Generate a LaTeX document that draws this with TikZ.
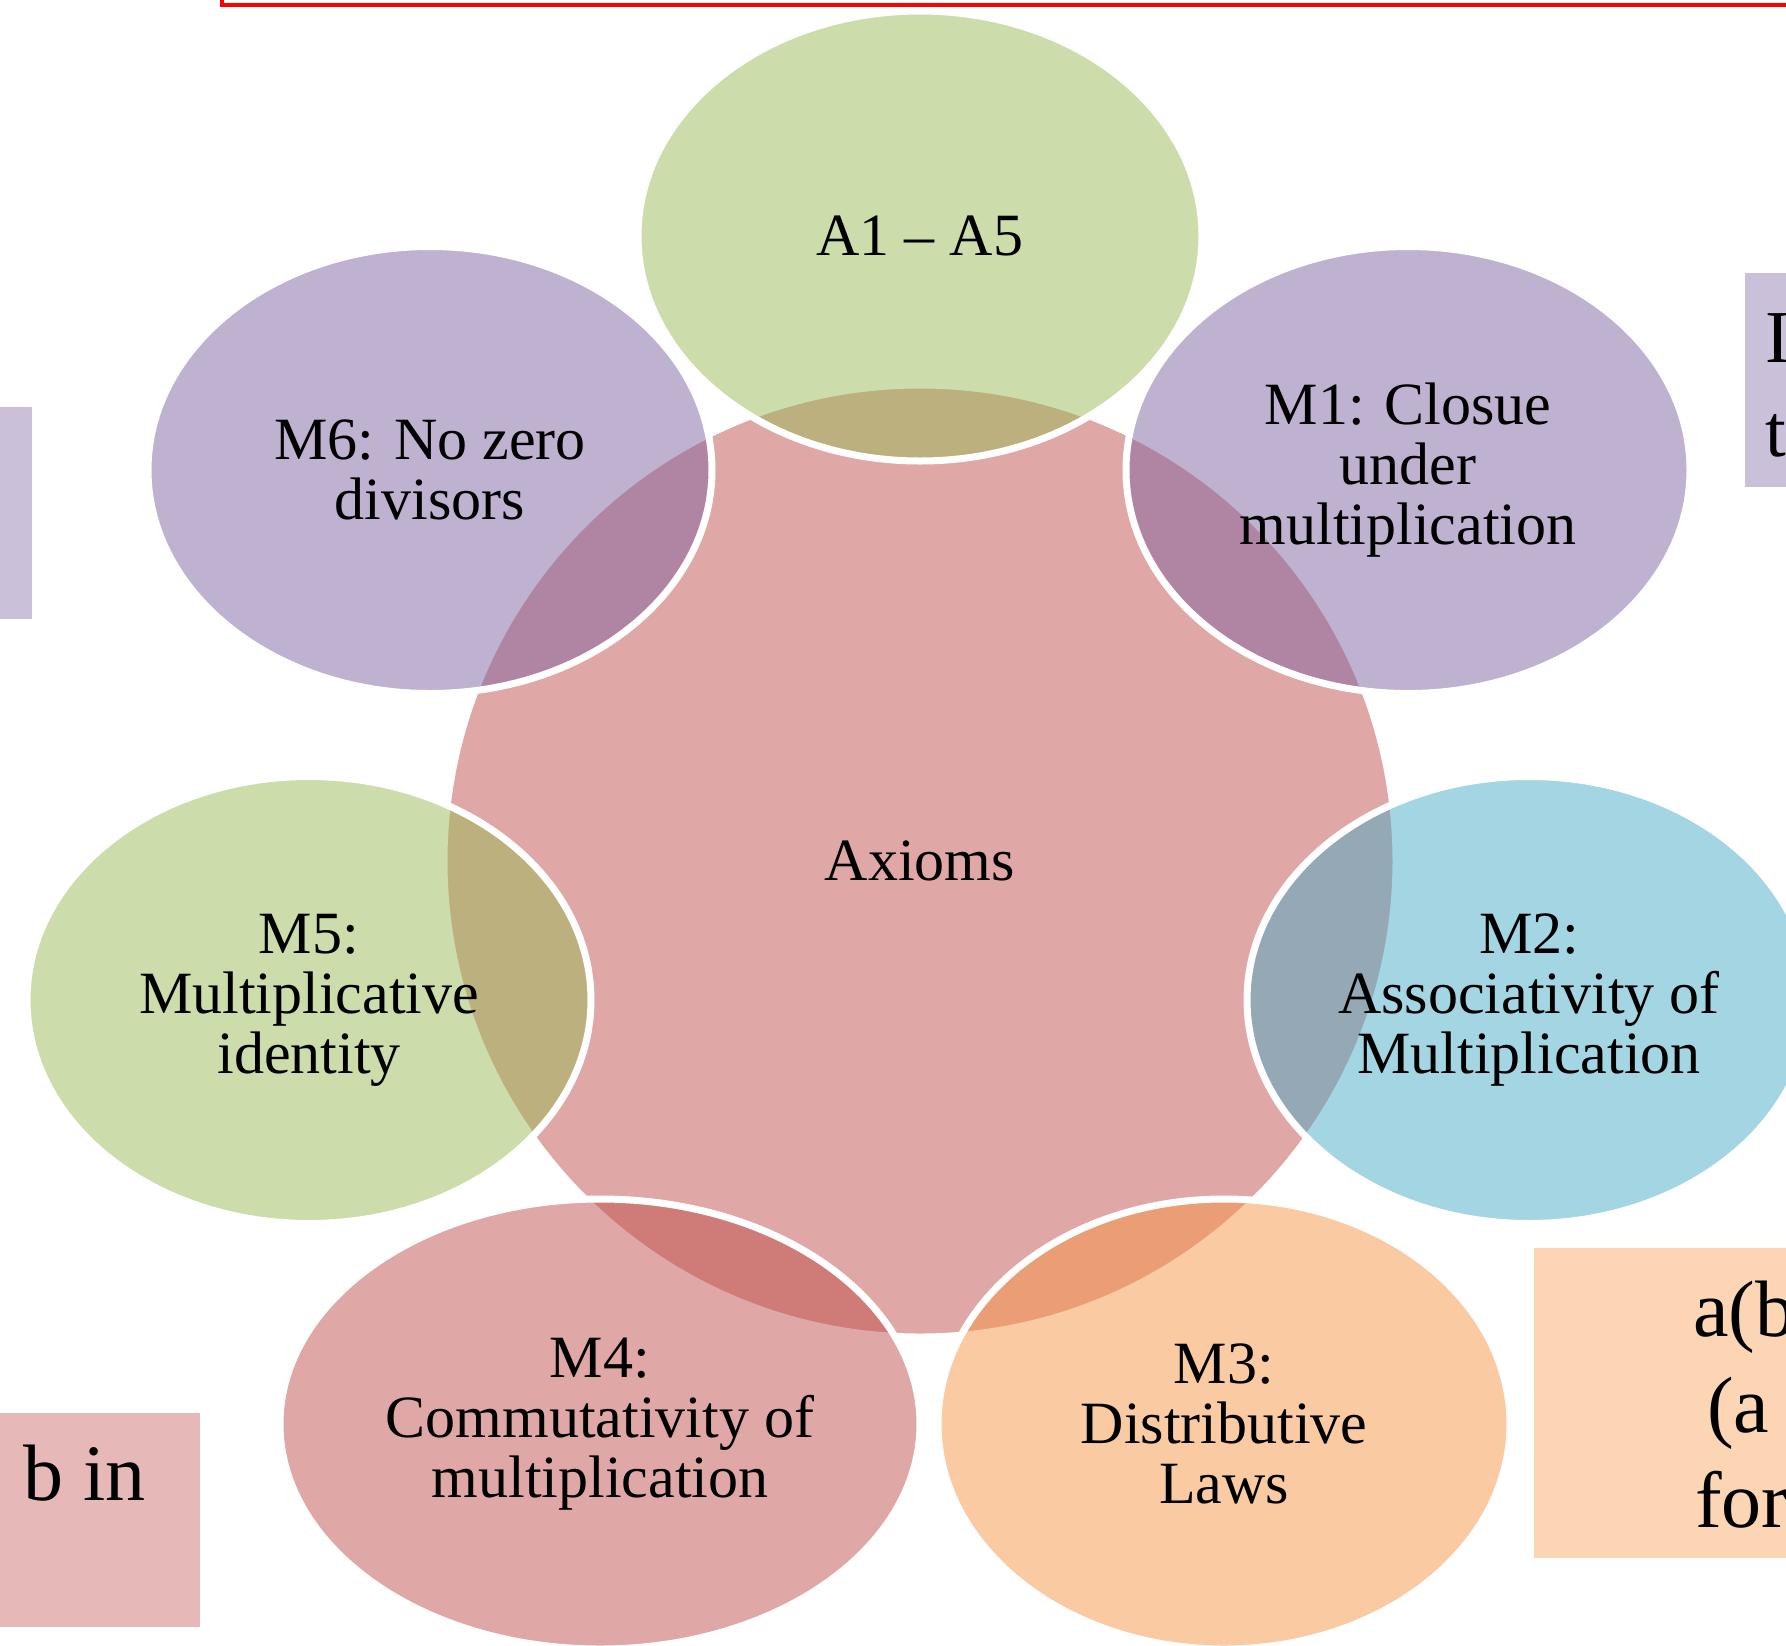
\documentclass[tikz,border=0pt]{standalone}
\usepackage{fontspec}
\setmainfont{Liberation Serif}
\usetikzlibrary{shapes.geometric}
\definecolor{accred}{HTML}{C0504D}
\definecolor{accgreen}{HTML}{9BBB59}
\definecolor{accpurple}{HTML}{8064A2}
\definecolor{accblue}{HTML}{4BACC6}
\definecolor{accorange}{HTML}{F79646}
\definecolor{boxpurple}{HTML}{CBC0DA}
\definecolor{boxpink}{HTML}{E6B9B8}
\definecolor{boxpeach}{HTML}{FCD5B5}
\begin{document}
\begin{tikzpicture}[x=0.75pt,y=-0.75pt,
  bub/.style={ellipse, draw=white, line width=5.25pt, fill opacity=0.5,
    text opacity=1, draw opacity=1, inner sep=0pt, align=center,
    font=\fontsize{45}{45}\selectfont},
  sidetext/.style={inner sep=0pt, anchor=base west, font=\fontsize{60}{60}\selectfont}]
\useasboundingbox (0,0) rectangle (1786,1646);
\clip (0,0) rectangle (1786,1646);
\fill[white] (0,0) rectangle (1786,1646);

% frame edge along the top
\draw[red, line width=3pt] (222,-30) rectangle (1830,5);

% coloured boxes at the borders
\fill[boxpurple] (-20,407) rectangle (32,619);
\fill[boxpurple] (1745,273) rectangle (1830,487);
\fill[boxpink] (-20,1413) rectangle (200,1627);
\fill[boxpeach] (1534,1248) rectangle (1830,1558);
\node[sidetext, font=\fontsize{56}{56}\selectfont] (tI) at (1765,362) {I};
\node[sidetext, font=\fontsize{56}{56}\selectfont] (tt) at (1765,456) {t};
\node[sidetext] (tbin) at (23,1500) {b in};
\node[sidetext] (tab) at (1693,1336) {a(b};
\node[sidetext] (ta) at (1707,1432) {(a};
\node[sidetext] (tfor) at (1695,1527) {for};

% central circle
\node[bub, circle, minimum size=952*0.75pt, fill=accred] (axioms) at (920,861) {Axioms};

% surrounding ellipses
\node[bub, minimum width=564*0.75pt, minimum height=450*0.75pt, fill=accgreen]
  (a15) at (920,236) {A1 – A5};
\node[bub, minimum width=564*0.75pt, minimum height=447*0.75pt, fill=accpurple]
  (m1) at (1408,470) {M1: Closue\\under\\multiplication};
\node[bub, minimum width=564*0.75pt, minimum height=447*0.75pt, fill=accblue]
  (m2) at (1529,1000) {M2:\\Associativity of\\Multiplication};
\node[bub, minimum width=572*0.75pt, minimum height=450*0.75pt, fill=accorange]
  (m3) at (1224,1424) {M3:\\Distributive\\Laws};
\node[bub, minimum width=640*0.75pt, minimum height=450*0.75pt, fill=accred]
  (m4) at (600,1424) {M4:\\Commutativity of\\multiplication};
\node[bub, minimum width=564*0.75pt, minimum height=447*0.75pt, fill=accgreen]
  (m5) at (309,1000) {M5:\\Multiplicative\\identity};
\node[bub, minimum width=564*0.75pt, minimum height=447*0.75pt, fill=accpurple]
  (m6) at (430,470) {M6: No zero\\divisors};
\end{tikzpicture}
\end{document}
